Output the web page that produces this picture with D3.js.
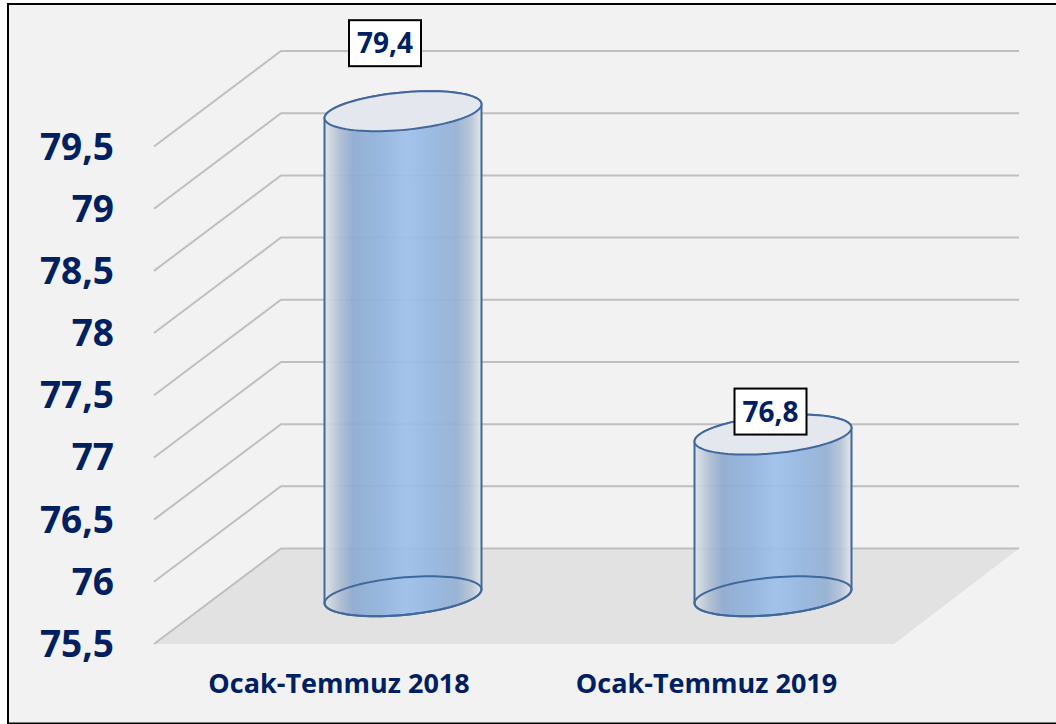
<!DOCTYPE html>
<html>
<head>
<meta charset="utf-8">
<script src="https://cdn.jsdelivr.net/npm/d3@7"></script>
<style>
    html, body { margin: 0; padding: 0; background: #fff; }
    svg { display: block; }
    text { font-family: "Open Sans", "Noto Sans", sans-serif; font-weight: 700; fill: #002060; }
</style>
</head>
<body>
<svg id="chart" width="1056" height="724"></svg>
<script>
// chart values
let categories = ["Ocak-Temmuz 2018", "Ocak-Temmuz 2019"];
let values = [79.4, 76.8];
let valueLabels = ["79,4", "76,8"];
let ticks = [75.5, 76, 76.5, 77, 77.5, 78, 78.5, 79, 79.5];
let tickLabels = ["75,5", "76", "76,5", "77", "77,5", "78", "78,5", "79", "79,5"];

let width = 1056;
let svg = d3.select("#chart");

// front edge of the floor, and how far the back wall is shifted from it
let xScale = d3.scaleBand().domain(categories).range([154, 894]);
let yScale = d3.scaleLinear().domain([75.5, 79.5]).range([644, 146.5]);
let depth = {x: 127, y: -95.5};

// cylinder base: a circle lying on the floor plane
let radius = {a: 73.7, bx: 27, by: -20};

// frame
svg.append("rect")
    .attr("x", 8).attr("y", 4)
    .attr("width", width - 8 + 4).attr("height", 719.5)
    .attr("fill", "#f2f2f2")
    .attr("stroke", "#000")
    .attr("stroke-width", 2);

// gradient of the cylinder body
let stops = [
    [0, "#dfe3e8"], [0.1, "#aebdd1"], [0.18, "#8eaad0"], [0.36, "#92b4de"],
    [0.52, "#9ec0eb"], [0.7, "#95b6df"], [0.84, "#94b0d3"], [0.93, "#b4c3d6"], [1, "#e2e6ea"]
];
let gradient = svg.append("defs").append("linearGradient")
    .attr("id", "barFill")
    .attr("x1", 0).attr("x2", 1).attr("y1", 0).attr("y2", 0);
gradient.selectAll("stop")
    .data(stops)
    .enter()
    .append("stop")
    .attr("offset", d => d[0])
    .attr("stop-color", d => d[1]);

// floor
let floorPts = [
    [xScale.range()[0], yScale(75.5)],
    [xScale.range()[1], yScale(75.5)],
    [xScale.range()[1] + depth.x - 2, yScale(75.5) + depth.y],
    [xScale.range()[0] + depth.x, yScale(75.5) + depth.y]
];
svg.append("polygon")
    .attr("points", floorPts.join(" "))
    .attr("fill", "#e2e2e2");

// grid lines: side wall then back wall
let gridLine = d3.line();
svg.selectAll(".grid")
    .data(ticks)
    .enter()
    .append("path")
    .attr("class", "grid")
    .attr("fill", "none")
    .attr("stroke", "#bfbfbf")
    .attr("stroke-width", 2)
    .attr("d", d => gridLine([
        [154, yScale(d)],
        [154 + depth.x, yScale(d) + depth.y],
        [1019, yScale(d) + depth.y]
    ]));

// tick labels
svg.selectAll(".tick-label")
    .data(ticks)
    .enter()
    .append("text")
    .attr("class", "tick-label")
    .attr("x", 114)
    .attr("y", d => yScale(d) + 13)
    .attr("text-anchor", "end")
    .attr("font-size", 37)
    .text((d, i) => tickLabels[i]);

// category labels, the second one sits a little left of its band
let catShift = [0, -2.5];
svg.selectAll(".cat-label")
    .data(categories)
    .enter()
    .append("text")
    .attr("class", "cat-label")
    .attr("x", (d, i) => xScale(d) + xScale.bandwidth() / 2 + catShift[i])
    .attr("y", 693)
    .attr("text-anchor", "middle")
    .attr("font-size", 27)
    .text(d => d);

// ellipse of a cylinder end, centred on (cx, cy)
let ringPoint = function (cx, cy, t) {
    return [
        cx + radius.a * Math.cos(t) + radius.bx * Math.sin(t),
        cy + radius.by * Math.sin(t)
    ];
};
let ringPath = function (cx, cy) {
    let pts = d3.range(0, 2 * Math.PI, Math.PI / 48).map(t => ringPoint(cx, cy, t));
    return d3.line().curve(d3.curveLinearClosed)(pts);
};

// body outline: the two side edges joined by the lower half of both ends
let bodyPath = function (cx, top, base) {
    let start = Math.atan2(radius.bx, radius.a);
    let lower = d3.range(0, Math.PI + 0.01, Math.PI / 48).map(t => ringPoint(cx, base, start - t));
    let upper = d3.range(0, Math.PI + 0.01, Math.PI / 48).map(t => ringPoint(cx, top, start - Math.PI - t));
    return d3.line().curve(d3.curveLinearClosed)(lower.concat(upper));
};

let bars = svg.selectAll(".bar")
    .data(categories)
    .enter()
    .append("g")
    .attr("class", "bar");

let barX = d => xScale(d) + xScale.bandwidth() / 2 + depth.x / 2 + 0.5;
let barY = v => yScale(v) + depth.y / 2;

bars.append("path")
    .attr("d", d => bodyPath(barX(d), barY(values[categories.indexOf(d)]), barY(75.5)))
    .attr("fill", "url(#barFill)")
    .attr("fill-opacity", 0.93)
    .attr("stroke", "#41689b")
    .attr("stroke-width", 2);

// bottom end, only its line shows through the body
bars.append("path")
    .attr("d", d => ringPath(barX(d), barY(75.5)))
    .attr("fill", "none")
    .attr("stroke", "#41689b")
    .attr("stroke-width", 2);

// top end
bars.append("path")
    .attr("d", d => ringPath(barX(d), barY(values[categories.indexOf(d)])))
    .attr("fill", "#e4e7ee")
    .attr("stroke", "#41689b")
    .attr("stroke-width", 2);

// value boxes, moved by hand in the original
let boxShift = [{x: -18, y: -68}, {x: -2.5, y: -23}];
let boxW = 72;
let boxH = 46;
bars.append("rect")
    .attr("x", (d, i) => barX(d) + boxShift[i].x - boxW / 2)
    .attr("y", (d, i) => barY(values[i]) + boxShift[i].y - boxH / 2)
    .attr("width", boxW)
    .attr("height", boxH)
    .attr("fill", "#fff")
    .attr("stroke", "#000")
    .attr("stroke-width", 2);

bars.append("text")
    .attr("x", (d, i) => barX(d) + boxShift[i].x)
    .attr("y", (d, i) => barY(values[i]) + boxShift[i].y + 10)
    .attr("text-anchor", "middle")
    .attr("font-size", 28)
    .text((d, i) => valueLabels[i]);
</script>
</body>
</html>
